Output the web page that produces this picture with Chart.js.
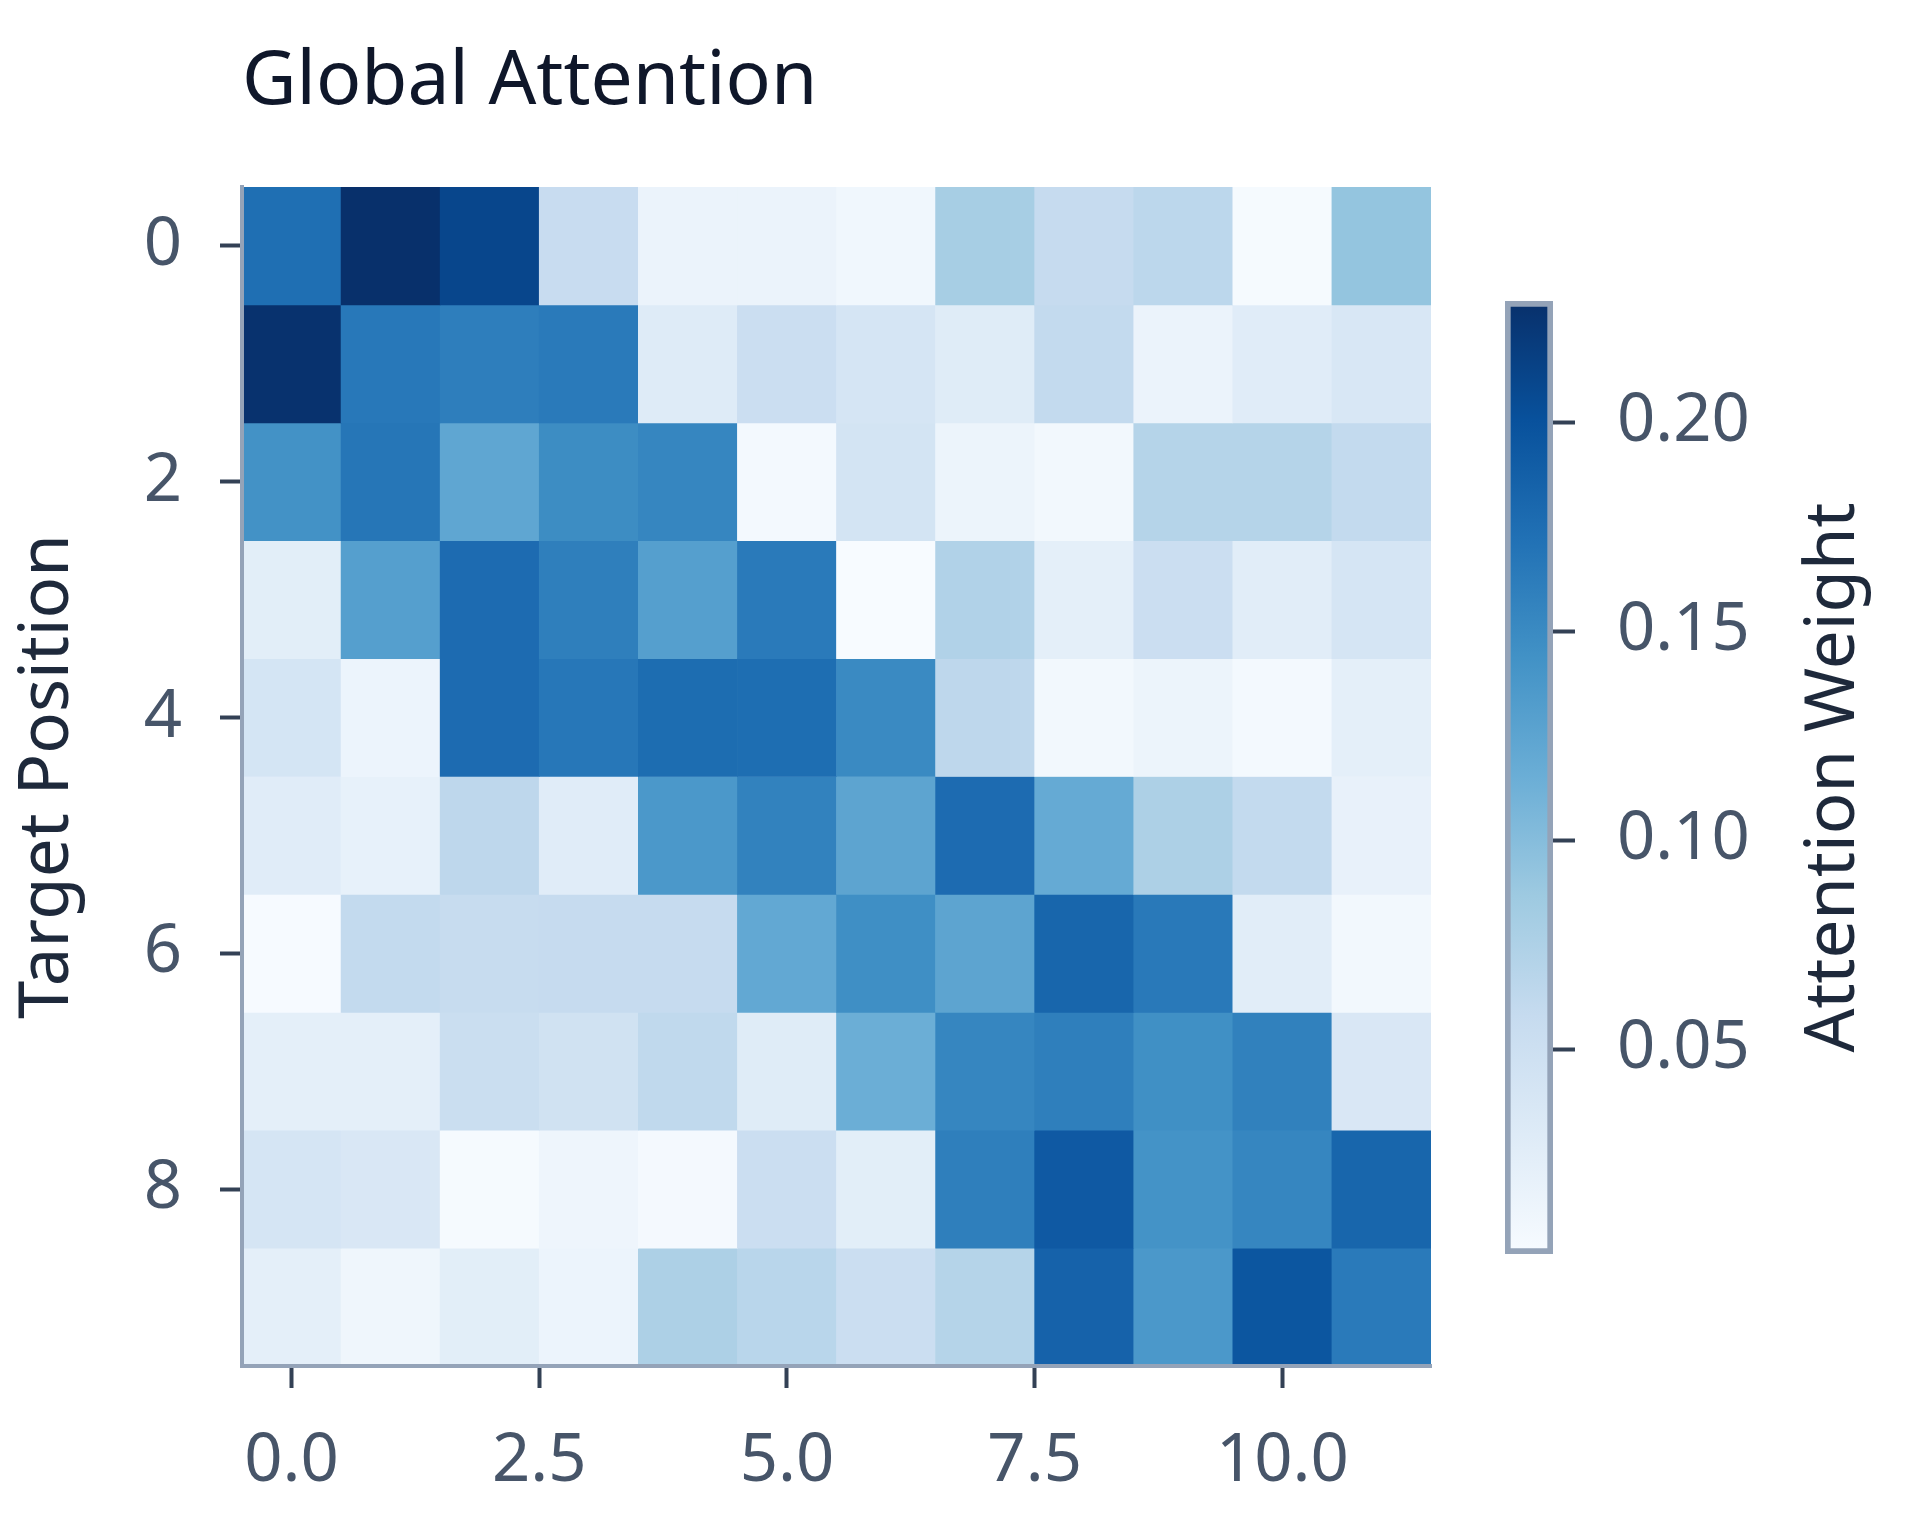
<!DOCTYPE html>
<html>
<head>
<meta charset="utf-8">
<title>Global Attention</title>
<script src="https://cdn.jsdelivr.net/npm/chart.js@4.4.1/dist/chart.umd.min.js"></script>
<style>
  html, body { margin: 0; padding: 0; background: #ffffff; }
  #wrap { position: relative; width: 1920px; height: 1536px; }
  #heat { position: absolute; left: 0; top: 0; }
  #cbar { position: absolute; left: 1480px; top: 0; }
</style>
</head>
<body>
<div id="wrap">
  <canvas id="heat" width="1480" height="1536"></canvas>
  <canvas id="cbar" width="440" height="1536"></canvas>
</div>
<script>
// data
const cols = [0, 1, 2, 3, 4, 5, 6, 7, 8, 9, 10, 11];   // source position
const rows = [0, 1, 2, 3, 4, 5, 6, 7, 8, 9];           // target position
const xTicks = [0, 2.5, 5, 7.5, 10];
const yTicks = [0, 2, 4, 6, 8];
const cbTicks = [0.05, 0.10, 0.15, 0.20];

// attention weights, one array per target row
const weights = [
  [0.174, 0.229, 0.210, 0.056, 0.015, 0.015, 0.009, 0.080, 0.058, 0.065, 0.003, 0.092],
  [0.227, 0.166, 0.161, 0.164, 0.030, 0.052, 0.040, 0.028, 0.060, 0.015, 0.027, 0.037],
  [0.143, 0.168, 0.123, 0.148, 0.154, 0.005, 0.042, 0.014, 0.007, 0.070, 0.070, 0.060],
  [0.025, 0.130, 0.177, 0.160, 0.130, 0.164, 0.001, 0.073, 0.023, 0.052, 0.026, 0.040],
  [0.041, 0.013, 0.177, 0.167, 0.176, 0.175, 0.150, 0.064, 0.007, 0.014, 0.005, 0.023],
  [0.027, 0.019, 0.064, 0.027, 0.137, 0.157, 0.125, 0.177, 0.119, 0.076, 0.060, 0.018],
  [0.002, 0.060, 0.057, 0.058, 0.058, 0.121, 0.146, 0.125, 0.182, 0.165, 0.026, 0.007],
  [0.023, 0.023, 0.053, 0.046, 0.062, 0.028, 0.115, 0.154, 0.160, 0.145, 0.158, 0.036],
  [0.040, 0.036, 0.003, 0.011, 0.004, 0.052, 0.025, 0.160, 0.193, 0.142, 0.154, 0.182],
  [0.023, 0.010, 0.025, 0.013, 0.076, 0.067, 0.052, 0.070, 0.185, 0.137, 0.196, 0.164]
];

// matplotlib "Blues"
const blues = ['#f7fbff', '#deebf7', '#c6dbef', '#9ecae1', '#6baed6', '#4292c6', '#2171b5', '#08519c', '#08306b'];

function hexRgb(h) {
  return [parseInt(h.slice(1, 3), 16), parseInt(h.slice(3, 5), 16), parseInt(h.slice(5, 7), 16)];
}
function bluesAt(t) {
  t = Math.max(0, Math.min(1, t));
  const p = t * (blues.length - 1);
  const i = Math.min(Math.floor(p), blues.length - 2);
  const f = p - i;
  const a = hexRgb(blues[i]), b = hexRgb(blues[i + 1]);
  const c = a.map((v, k) => Math.round(v + (b[k] - v) * f));
  return 'rgb(' + c.join(',') + ')';
}

const allW = weights.flat();
const vmin = Math.min(...allW);
const vmax = Math.max(...allW);

Chart.defaults.font.family = "'Noto Sans', 'DejaVu Sans', sans-serif";
Chart.defaults.color = '#475569';

// spines sit on top of the cells
const spine = { display: true, color: '#94a3b8', width: 4, z: 1 };
const tickGrid = { drawOnChartArea: false, drawTicks: true, tickLength: 22, tickWidth: 4, tickColor: '#334155', offset: false };

// heatmap: each row is a dataset of floating bars
const heatSets = rows.map(r => ({
  label: 'row ' + r,
  data: cols.map(c => ({ x: c, y: [r - 0.5, r + 0.5] })),
  backgroundColor: cols.map(c => bluesAt((weights[r][c] - vmin) / (vmax - vmin))),
  borderWidth: 0,
  barPercentage: 1,
  categoryPercentage: 1,
  grouped: false
}));

new Chart(document.getElementById('heat'), {
  type: 'bar',
  data: { datasets: heatSets },
  options: {
    responsive: false,
    animation: false,
    layout: { padding: { left: 0, right: 49, top: 0, bottom: 0 } },
    plugins: {
      legend: { display: false },
      tooltip: { enabled: false },
      title: {
        display: true,
        text: 'Global Attention',
        align: 'start',
        fullSize: false,
        color: '#0f172a',
        font: { size: 75, weight: 'normal' },
        padding: { top: 38, bottom: 59 }
      }
    },
    scales: {
      x: {
        type: 'linear',
        min: -0.5,
        max: 11.5,
        offset: false,
        afterBuildTicks: s => { s.ticks = xTicks.map(v => ({ value: v })); },
        afterFit: s => { s.height = 170; },
        ticks: {
          callback: v => Number(v).toFixed(1),
          font: { size: 67 },
          color: '#475569',
          padding: 34,
          maxRotation: 0,
          autoSkip: false
        },
        grid: tickGrid,
        border: spine
      },
      y: {
        type: 'linear',
        reverse: true,
        min: -0.5,
        max: 9.5,
        afterBuildTicks: s => { s.ticks = yTicks.map(v => ({ value: v })); },
        afterFit: s => { s.width = 242; },
        ticks: {
          callback: v => String(v),
          font: { size: 67 },
          color: '#475569',
          padding: 38,
          autoSkip: false
        },
        grid: tickGrid,
        border: spine,
        title: {
          display: true,
          text: 'Target Position',
          color: '#1e293b',
          font: { size: 69 },
          padding: { top: 7 }
        }
      }
    }
  }
});

// colorbar label reads bottom-to-top like matplotlib
const cbarLabel = {
  id: 'cbarLabel',
  afterDraw(chart) {
    const { ctx, chartArea } = chart;
    ctx.save();
    ctx.translate(354, (chartArea.top + chartArea.bottom) / 2);
    ctx.rotate(-Math.PI / 2);
    ctx.font = "69px 'Noto Sans', 'DejaVu Sans', sans-serif";
    ctx.fillStyle = '#1e293b';
    ctx.textAlign = 'center';
    ctx.textBaseline = 'middle';
    ctx.fillText('Attention Weight', 0, 0);
    ctx.restore();
  }
};

new Chart(document.getElementById('cbar'), {
  type: 'bar',
  data: {
    labels: ['Attention Weight'],
    datasets: [{
      data: [[vmin, vmax]],
      backgroundColor: ctx => {
        const a = ctx.chart.chartArea;
        if (!a) return blues[4];
        const g = ctx.chart.ctx.createLinearGradient(0, a.bottom, 0, a.top);
        blues.forEach((c, i) => g.addColorStop(i / (blues.length - 1), c));
        return g;
      },
      borderColor: '#94a3b8',
      borderWidth: 6,
      borderSkipped: false,
      barPercentage: 1,
      categoryPercentage: 1
    }]
  },
  options: {
    responsive: false,
    animation: false,
    layout: { padding: { left: 25, right: 0, top: 301, bottom: 282 } },
    plugins: { legend: { display: false }, tooltip: { enabled: false } },
    scales: {
      x: { display: false },
      y: {
        position: 'right',
        min: vmin,
        max: vmax,
        afterBuildTicks: s => { s.ticks = cbTicks.map(v => ({ value: v })); },
        afterFit: s => { s.width = 367; },
        ticks: {
          callback: v => Number(v).toFixed(2),
          font: { size: 67 },
          color: '#475569',
          padding: 42
        },
        grid: tickGrid,
        border: { display: false }
      }
    }
  },
  plugins: [cbarLabel]
});
</script>
</body>
</html>
